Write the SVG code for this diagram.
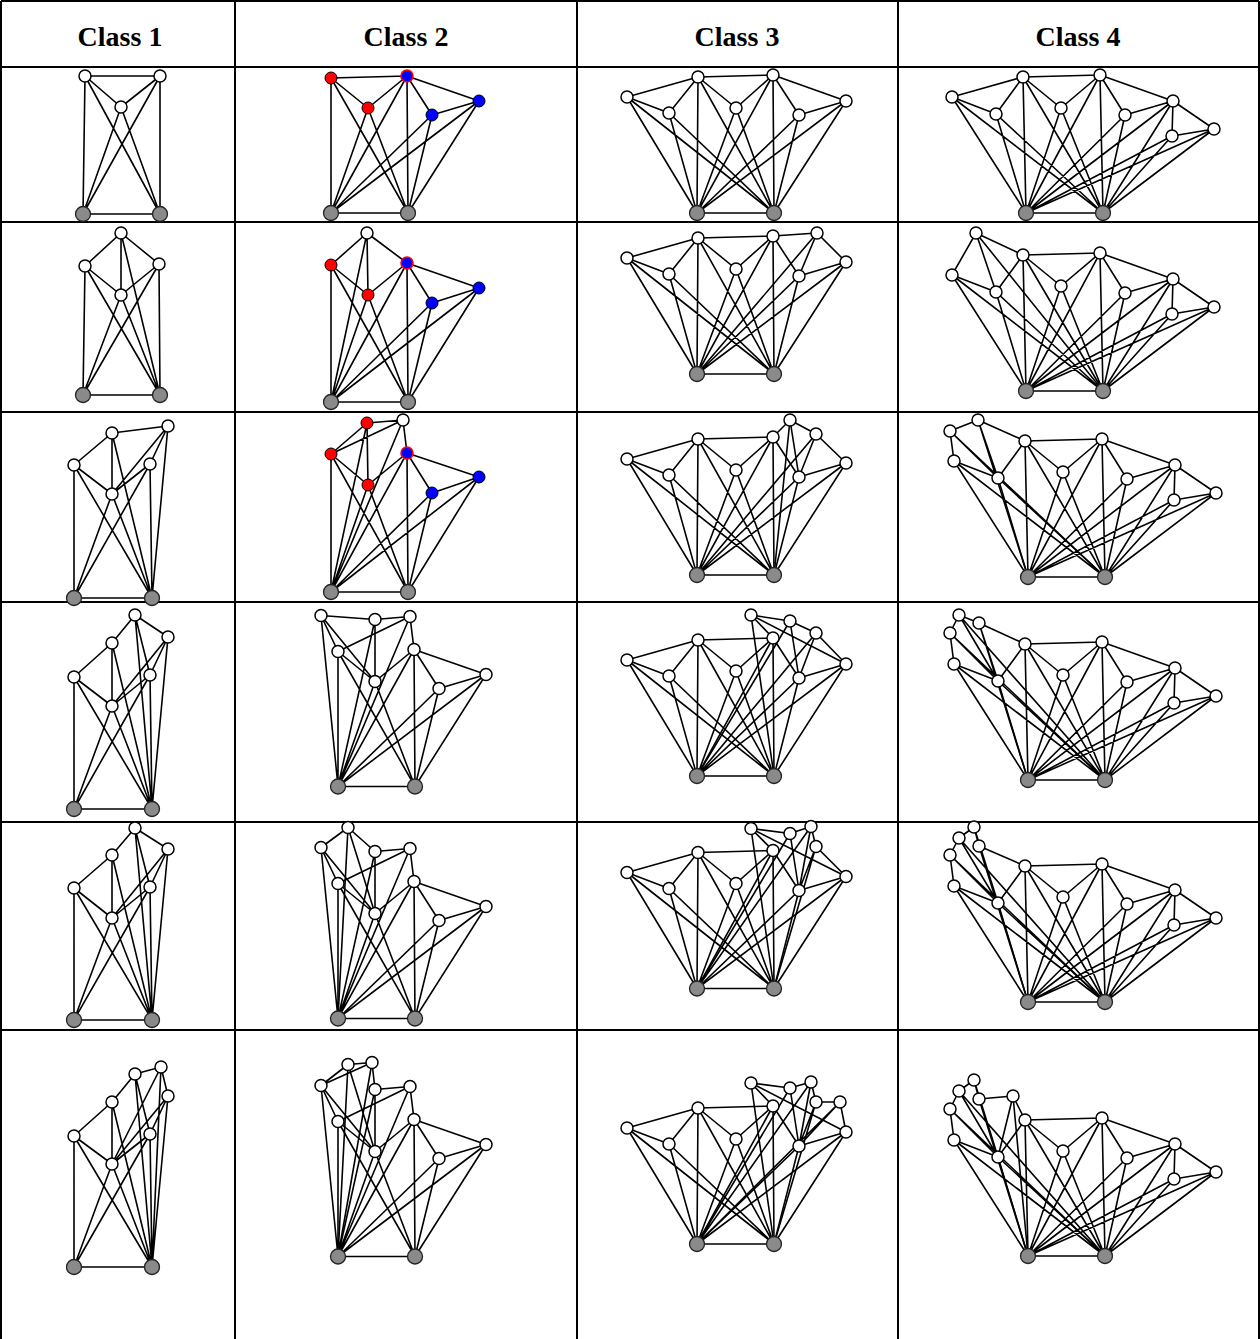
<svg xmlns="http://www.w3.org/2000/svg" width="1260" height="1339" viewBox="0 0 1260 1339">
<style>
.e{fill:none;stroke:#000;stroke-width:1.6;stroke-linecap:round}
.w{fill:#fff;stroke:#000;stroke-width:1.5}
.g{fill:#8a8a8a;stroke:#222;stroke-width:1.3}
.r{fill:#f00;stroke:#000;stroke-width:1}
.b{fill:#00f;stroke:#000;stroke-width:1}
.p{fill:#00f;stroke:#f00;stroke-width:1.6}
.grid{stroke:#000;stroke-width:2;fill:none}
.h{font-family:"Liberation Serif","Times New Roman","DejaVu Serif",serif;font-weight:bold;font-size:28px;text-anchor:middle}
</style>
<defs>
<path id="c2e" class="e" d="M331 78L368 108 M368 108L407 76 M407 76L432 115 M407 76L479 101 M432 115L479 101 M331 78L331 213 M407 76L408 213 M331 78L408 213 M368 108L331 213 M368 108L408 213 M407 76L331 213 M432 115L331 213 M432 115L408 213 M479 101L331 213 M479 101L408 213 M331 213L408 213 M368 46L403 43 M403 43L331 78 M403 43L407 76 M403 43L331 213 M368 46L368 108 M368 46L331 213 M314 42L331 78 M314 42L368 108 M314 42L331 213"/>
<g id="c2n">
<circle class="w" cx="331" cy="78" r="6"/><circle class="w" cx="407" cy="76" r="6"/><circle class="w" cx="368" cy="108" r="6"/><circle class="w" cx="432" cy="115" r="6"/><circle class="w" cx="479" cy="101" r="6"/><circle class="w" cx="314" cy="42" r="6"/><circle class="w" cx="368" cy="46" r="6"/><circle class="w" cx="403" cy="43" r="6"/><circle class="g" cx="331" cy="213" r="7.5"/><circle class="g" cx="408" cy="213" r="7.5"/>
</g>
<path id="c3e" class="e" d="M627 97L698 77 M698 77L773 75 M627 97L669 113 M669 113L698 77 M698 77L736 108 M736 108L773 75 M773 75L799 115 M799 115L846 101 M698 77L697 213 M773 75L774 213 M697 213L774 213 M627 97L697 213 M627 97L774 213 M669 113L697 213 M669 113L774 213 M698 77L774 213 M736 108L697 213 M736 108L774 213 M773 75L697 213 M799 115L697 213 M799 115L774 213 M846 101L697 213 M846 101L774 213"/>
<g id="c3n">
<circle class="w" cx="627" cy="97" r="6"/><circle class="w" cx="698" cy="77" r="6"/><circle class="w" cx="773" cy="75" r="6"/><circle class="w" cx="846" cy="101" r="6"/><circle class="w" cx="669" cy="113" r="6"/><circle class="w" cx="736" cy="108" r="6"/><circle class="w" cx="799" cy="115" r="6"/><circle class="g" cx="697" cy="213" r="7.5"/><circle class="g" cx="774" cy="213" r="7.5"/>
</g>
<path id="c4e" class="e" d="M1023 77L1100 75 M1100 75L1173 101 M996 114L1023 77 M1023 77L1061 108 M1061 108L1100 75 M1100 75L1125 115 M1125 115L1173 101 M1173 101L1214 129 M1173 101L1172 136 M1172 136L1214 129 M1023 77L1026 213 M1100 75L1103 213 M1026 213L1103 213 M1023 77L1103 213 M1100 75L1026 213 M996 114L1026 213 M996 114L1103 213 M1061 108L1026 213 M1061 108L1103 213 M1125 115L1026 213 M1125 115L1103 213 M1173 101L1026 213 M1173 101L1103 213 M1172 136L1026 213 M1172 136L1103 213 M1214 129L1026 213 M1214 129L1103 213 M952 97L996 114 M952 97L1026 213 M952 97L1103 213"/>
<g id="c4n">
<circle class="w" cx="952" cy="97" r="6"/><circle class="w" cx="1023" cy="77" r="6"/><circle class="w" cx="1100" cy="75" r="6"/><circle class="w" cx="996" cy="114" r="6"/><circle class="w" cx="1061" cy="108" r="6"/><circle class="w" cx="1125" cy="115" r="6"/><circle class="w" cx="1173" cy="101" r="6"/><circle class="w" cx="1172" cy="136" r="6"/><circle class="w" cx="1214" cy="129" r="6"/><circle class="g" cx="1026" cy="213" r="7.5"/><circle class="g" cx="1103" cy="213" r="7.5"/>
</g>
</defs>
<rect width="1260" height="1339" fill="#fff"/>
<g id="table" class="grid">
<path d="M1 1H1259 M1 67H1259 M1 222H1259 M1 412H1259 M1 602H1259 M1 822H1259 M1 1030H1259 M1 1V1339 M235 1V1339 M577 1V1339 M898 1V1339 M1259 1V1339"/>
</g>
<g id="headers">
<text class="h" x="120" y="46" font-family="Liberation Serif, serif">Class 1</text>
<text class="h" x="406" y="46" font-family="Liberation Serif, serif">Class 2</text>
<text class="h" x="737" y="46" font-family="Liberation Serif, serif">Class 3</text>
<text class="h" x="1078" y="46" font-family="Liberation Serif, serif">Class 4</text>
</g>
<g id="connectors">
<path id="e-c1r1" class="e" d="M85 76L160 76 M85 76L121 107 M160 76L121 107 M85 76L83 214 M160 76L160 214 M83 214L160 214 M85 76L160 214 M160 76L83 214 M121 107L83 214 M121 107L160 214"/>
<path id="e-c1r2" class="e" d="M121 233L85 266 M121 233L159 264 M121 233L121 295 M121 233L160 395 M85 266L121 295 M159 264L121 295 M85 266L83 395 M159 264L160 395 M83 395L160 395 M85 266L160 395 M159 264L83 395 M121 295L83 395 M121 295L160 395"/>
<path id="e-c1r3" class="e" d="M112 433L74 465 M112 433L168 426 M112 433L112 494 M112 433L152 598 M168 426L150 464 M168 426L112 494 M168 426L152 598 M74 465L112 494 M150 464L112 494 M74 465L74 598 M150 464L152 598 M74 598L152 598 M74 465L152 598 M150 464L74 598 M112 494L74 598 M112 494L152 598"/>
<path id="e-c1r4" class="e" d="M135 615L112 643 M135 615L168 637 M135 615L152 809 M135 615L150 675 M112 643L74 677 M112 643L112 706 M112 643L152 809 M168 637L150 675 M168 637L112 706 M168 637L152 809 M74 677L112 706 M150 675L112 706 M74 677L74 809 M150 675L152 809 M74 809L152 809 M74 677L152 809 M150 675L74 809 M112 706L74 809 M112 706L152 809"/>
<path id="e-c1r5" class="e" d="M135 828L112 855 M135 828L168 849 M135 828L152 1020 M135 828L150 887 M112 855L74 888 M112 855L112 918 M112 855L152 1020 M168 849L150 887 M168 849L112 918 M168 849L152 1020 M74 888L112 918 M150 887L112 918 M74 888L74 1020 M150 887L152 1020 M74 1020L152 1020 M74 888L152 1020 M150 887L74 1020 M112 918L74 1020 M112 918L152 1020"/>
<path id="e-c1r6" class="e" d="M135 1074L161 1067 M135 1074L112 1102 M135 1074L150 1134 M135 1074L152 1267 M161 1067L168 1096 M161 1067L112 1164 M161 1067L152 1267 M168 1096L150 1134 M168 1096L112 1164 M168 1096L152 1267 M112 1102L74 1136 M112 1102L112 1164 M112 1102L152 1267 M74 1136L112 1164 M150 1134L112 1164 M74 1136L74 1267 M150 1134L152 1267 M74 1267L152 1267 M74 1136L152 1267 M150 1134L74 1267 M112 1164L74 1267 M112 1164L152 1267"/>
<path id="e-c2r1" class="e" d="M331 78L407 76 M331 78L368 108 M368 108L407 76 M407 76L432 115 M407 76L479 101 M432 115L479 101 M331 78L331 213 M407 76L408 213 M331 78L408 213 M368 108L331 213 M368 108L408 213 M407 76L331 213 M432 115L331 213 M432 115L408 213 M479 101L331 213 M479 101L408 213 M331 213L408 213"/>
<path id="e-c2r2" class="e" d="M367 233L331 265 M367 233L407 263 M367 233L368 295 M367 233L331 402 M331 265L368 295 M368 295L407 263 M407 263L432 303 M407 263L479 288 M432 303L479 288 M331 265L331 402 M407 263L408 402 M331 265L408 402 M368 295L331 402 M368 295L408 402 M407 263L331 402 M432 303L331 402 M432 303L408 402 M479 288L331 402 M479 288L408 402 M331 402L408 402"/>
<path id="e-c2r3" class="e" d="M367 423L403 420 M367 423L331 454 M367 423L368 485 M367 423L331 592 M403 420L331 454 M403 420L407 453 M403 420L331 592 M331 454L368 485 M368 485L407 453 M407 453L432 493 M407 453L479 477 M432 493L479 477 M331 454L331 592 M407 453L408 592 M331 454L408 592 M368 485L331 592 M368 485L408 592 M407 453L331 592 M432 493L331 592 M432 493L408 592 M479 477L331 592 M479 477L408 592 M331 592L408 592"/>
<g transform="translate(7,573.5)"><use href="#c2e"/><path class="e" d="M314 42L368 46"/></g>
<g transform="translate(7,805.5)"><use href="#c2e"/><path class="e" d="M341 22L314 42 M341 22L368 46 M341 22L331 213 M341 22L368 108"/></g>
<g transform="translate(7,1043.5)"><use href="#c2e"/><path class="e" d="M341 21L365 19 M365 19L368 46 M341 21L314 42 M341 21L331 213 M341 21L368 108 M365 19L314 42 M365 19L331 213"/></g>
<g><use href="#c3e"/><path class="e" d="M773 75L846 101"/></g>
<g transform="translate(0,161)"><use href="#c3e"/><path class="e" d="M773 75L817 72 M817 72L846 101 M817 72L799 115 M817 72L697 213"/></g>
<g transform="translate(0,362)"><use href="#c3e"/><path class="e" d="M773 75L790 58 M790 58L816 72 M816 72L846 101 M790 58L799 115 M790 58L774 213 M816 72L799 115 M816 72L697 213"/></g>
<g transform="translate(0,563)"><use href="#c3e"/><path class="e" d="M773 75L751 52 M751 52L790 58 M790 58L816 70 M816 70L846 101 M751 52L846 101 M751 52L774 213 M790 58L799 115 M790 58L697 213 M816 70L799 115 M816 70L697 213"/></g>
<g transform="translate(0,775.5)"><use href="#c3e"/><path class="e" d="M773 75L751 53 M751 53L790 58 M790 58L811 51 M811 51L816 71 M816 71L846 101 M751 53L846 101 M751 53L774 213 M790 58L799 115 M790 58L697 213 M811 51L799 115 M811 51L697 213 M816 71L799 115 M816 71L774 213"/></g>
<g transform="translate(0,1031)"><use href="#c3e"/><path class="e" d="M773 75L751 52 M751 52L790 57 M790 57L811 51 M811 51L816 71 M816 71L840 71 M840 71L846 101 M751 52L846 101 M751 52L774 213 M790 57L799 115 M790 57L697 213 M811 51L799 115 M811 51L697 213 M816 71L799 115 M816 71L774 213 M840 71L799 115 M840 71L697 213"/></g>
<g><use href="#c4e"/><path class="e" d="M952 97L1023 77"/></g>
<g transform="translate(0,178)"><use href="#c4e"/><path class="e" d="M952 97L976 55 M976 55L1023 77 M976 55L996 114 M976 55L1103 213"/></g>
<g transform="translate(2,364)"><use href="#c4e"/><path class="e" d="M952 97L948 67 M948 67L976 56 M976 56L1023 77 M948 67L996 114 M948 67L1103 213 M976 56L996 114 M976 56L1026 213"/></g>
<g transform="translate(2,567)"><use href="#c4e"/><path class="e" d="M952 97L948 66 M948 66L957 48 M957 48L977 56 M977 56L1023 77 M948 66L996 114 M948 66L1103 213 M977 56L996 114 M977 56L1026 213 M957 48L996 114 M957 48L1103 213"/></g>
<g transform="translate(2,789)"><use href="#c4e"/><path class="e" d="M952 97L948 66 M948 66L957 49 M957 49L972 38 M972 38L977 57 M977 57L1023 77 M948 66L996 114 M948 66L1103 213 M977 57L996 114 M977 57L1026 213 M957 49L996 114 M957 49L1103 213 M972 38L996 114 M972 38L1026 213"/></g>
<g transform="translate(2,1043)"><use href="#c4e"/><path class="e" d="M952 97L948 66 M948 66L957 48 M957 48L972 37 M972 37L977 56 M977 56L1011 53 M1011 53L1023 77 M948 66L996 114 M948 66L1103 213 M977 56L996 114 M977 56L1026 213 M957 48L996 114 M957 48L1103 213 M972 37L996 114 M972 37L1026 213 M1011 53L996 114 M1011 53L1026 213"/></g>
</g>
<g id="c1r1"><circle class="w" cx="85" cy="76" r="6"/><circle class="w" cx="160" cy="76" r="6"/><circle class="w" cx="121" cy="107" r="6"/><circle class="g" cx="83" cy="214" r="7.5"/><circle class="g" cx="160" cy="214" r="7.5"/></g>
<g id="c1r2"><circle class="w" cx="121" cy="233" r="6"/><circle class="w" cx="85" cy="266" r="6"/><circle class="w" cx="159" cy="264" r="6"/><circle class="w" cx="121" cy="295" r="6"/><circle class="g" cx="83" cy="395" r="7.5"/><circle class="g" cx="160" cy="395" r="7.5"/></g>
<g id="c1r3"><circle class="w" cx="112" cy="433" r="6"/><circle class="w" cx="168" cy="426" r="6"/><circle class="w" cx="74" cy="465" r="6"/><circle class="w" cx="150" cy="464" r="6"/><circle class="w" cx="112" cy="494" r="6"/><circle class="g" cx="74" cy="598" r="7.5"/><circle class="g" cx="152" cy="598" r="7.5"/></g>
<g id="c1r4"><circle class="w" cx="135" cy="615" r="6"/><circle class="w" cx="168" cy="637" r="6"/><circle class="w" cx="112" cy="643" r="6"/><circle class="w" cx="74" cy="677" r="6"/><circle class="w" cx="150" cy="675" r="6"/><circle class="w" cx="112" cy="706" r="6"/><circle class="g" cx="74" cy="809" r="7.5"/><circle class="g" cx="152" cy="809" r="7.5"/></g>
<g id="c1r5"><circle class="w" cx="135" cy="828" r="6"/><circle class="w" cx="168" cy="849" r="6"/><circle class="w" cx="112" cy="855" r="6"/><circle class="w" cx="74" cy="888" r="6"/><circle class="w" cx="150" cy="887" r="6"/><circle class="w" cx="112" cy="918" r="6"/><circle class="g" cx="74" cy="1020" r="7.5"/><circle class="g" cx="152" cy="1020" r="7.5"/></g>
<g id="c1r6"><circle class="w" cx="161" cy="1067" r="6"/><circle class="w" cx="135" cy="1074" r="6"/><circle class="w" cx="168" cy="1096" r="6"/><circle class="w" cx="112" cy="1102" r="6"/><circle class="w" cx="74" cy="1136" r="6"/><circle class="w" cx="150" cy="1134" r="6"/><circle class="w" cx="112" cy="1164" r="6"/><circle class="g" cx="74" cy="1267" r="7.5"/><circle class="g" cx="152" cy="1267" r="7.5"/></g>
<g id="c2r1"><circle class="r" cx="331" cy="78" r="6"/><circle class="p" cx="407" cy="76" r="6"/><circle class="r" cx="368" cy="108" r="6"/><circle class="b" cx="432" cy="115" r="6"/><circle class="b" cx="479" cy="101" r="6"/><circle class="g" cx="331" cy="213" r="7.5"/><circle class="g" cx="408" cy="213" r="7.5"/></g>
<g id="c2r2"><circle class="w" cx="367" cy="233" r="6"/><circle class="r" cx="331" cy="265" r="6"/><circle class="p" cx="407" cy="263" r="6"/><circle class="r" cx="368" cy="295" r="6"/><circle class="b" cx="432" cy="303" r="6"/><circle class="b" cx="479" cy="288" r="6"/><circle class="g" cx="331" cy="402" r="7.5"/><circle class="g" cx="408" cy="402" r="7.5"/></g>
<g id="c2r3"><circle class="r" cx="367" cy="423" r="6"/><circle class="w" cx="403" cy="420" r="6"/><circle class="r" cx="331" cy="454" r="6"/><circle class="p" cx="407" cy="453" r="6"/><circle class="r" cx="368" cy="485" r="6"/><circle class="b" cx="432" cy="493" r="6"/><circle class="b" cx="479" cy="477" r="6"/><circle class="g" cx="331" cy="592" r="7.5"/><circle class="g" cx="408" cy="592" r="7.5"/></g>
<g id="c2r4" transform="translate(7,573.5)"><use href="#c2n"/></g>
<g id="c2r5" transform="translate(7,805.5)"><use href="#c2n"/><circle class="w" cx="341" cy="22" r="6"/></g>
<g id="c2r6" transform="translate(7,1043.5)"><use href="#c2n"/><circle class="w" cx="341" cy="21" r="6"/><circle class="w" cx="365" cy="19" r="6"/></g>
<g id="c3r1"><use href="#c3n"/></g>
<g id="c3r2" transform="translate(0,161)"><use href="#c3n"/><circle class="w" cx="817" cy="72" r="6"/></g>
<g id="c3r3" transform="translate(0,362)"><use href="#c3n"/><circle class="w" cx="790" cy="58" r="6"/><circle class="w" cx="816" cy="72" r="6"/></g>
<g id="c3r4" transform="translate(0,563)"><use href="#c3n"/><circle class="w" cx="751" cy="52" r="6"/><circle class="w" cx="790" cy="58" r="6"/><circle class="w" cx="816" cy="70" r="6"/></g>
<g id="c3r5" transform="translate(0,775.5)"><use href="#c3n"/><circle class="w" cx="751" cy="53" r="6"/><circle class="w" cx="790" cy="58" r="6"/><circle class="w" cx="811" cy="51" r="6"/><circle class="w" cx="816" cy="71" r="6"/></g>
<g id="c3r6" transform="translate(0,1031)"><use href="#c3n"/><circle class="w" cx="751" cy="52" r="6"/><circle class="w" cx="790" cy="57" r="6"/><circle class="w" cx="811" cy="51" r="6"/><circle class="w" cx="816" cy="71" r="6"/><circle class="w" cx="840" cy="71" r="6"/></g>
<g id="c4r1"><use href="#c4n"/></g>
<g id="c4r2" transform="translate(0,178)"><use href="#c4n"/><circle class="w" cx="976" cy="55" r="6"/></g>
<g id="c4r3" transform="translate(2,364)"><use href="#c4n"/><circle class="w" cx="948" cy="67" r="6"/><circle class="w" cx="976" cy="56" r="6"/></g>
<g id="c4r4" transform="translate(2,567)"><use href="#c4n"/><circle class="w" cx="948" cy="66" r="6"/><circle class="w" cx="957" cy="48" r="6"/><circle class="w" cx="977" cy="56" r="6"/></g>
<g id="c4r5" transform="translate(2,789)"><use href="#c4n"/><circle class="w" cx="948" cy="66" r="6"/><circle class="w" cx="957" cy="49" r="6"/><circle class="w" cx="972" cy="38" r="6"/><circle class="w" cx="977" cy="57" r="6"/></g>
<g id="c4r6" transform="translate(2,1043)"><use href="#c4n"/><circle class="w" cx="948" cy="66" r="6"/><circle class="w" cx="957" cy="48" r="6"/><circle class="w" cx="972" cy="37" r="6"/><circle class="w" cx="977" cy="56" r="6"/><circle class="w" cx="1011" cy="53" r="6"/></g>
</svg>
